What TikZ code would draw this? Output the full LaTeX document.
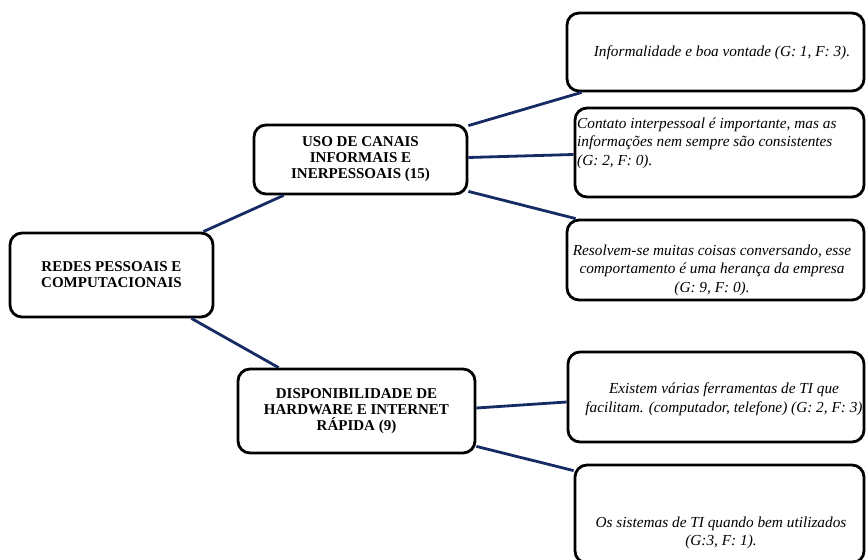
\documentclass[tikz,border=0pt]{standalone}
\usepackage{fontspec}
\setmainfont{Liberation Serif}
\definecolor{linkblue}{RGB}{22,42,100}
\begin{document}
\begin{tikzpicture}[x=1pt,y=-1pt,
  box/.style={draw=black,line width=2.8pt,rounded corners=12pt,fill=white,inner sep=0pt,align=center},
  bold/.style={font=\fontsize{15}{16}\selectfont\bfseries,align=center},
  ital/.style={font=\fontsize{15.3}{18.6}\selectfont\itshape,inner sep=0pt},
  link/.style={draw=linkblue,line width=2.8pt}]
\useasboundingbox (0,0) rectangle (866,559);
% left-side boxes
\node[box,bold,minimum width=203pt,minimum height=84pt] (root) at (111.5,275) {REDES PESSOAIS E\\COMPUTACIONAIS};
\node[box,bold,minimum width=213pt,minimum height=69pt] (uso) at (360.5,159.5) {USO DE CANAIS\\INFORMAIS E\\INERPESSOAIS (15)};
\node[box,bold,minimum width=237pt,minimum height=84pt] (disp) at (356.5,411) {DISPONIBILIDADE DE\\HARDWARE E INTERNET\\R\'APIDA (9)};
% right-side boxes
\node[box,minimum width=297pt,minimum height=78pt] (b1) at (715.5,52) {};
\node[box,minimum width=289pt,minimum height=89pt] (b2) at (719.5,152.5) {};
\node[box,minimum width=297pt,minimum height=80pt] (b3) at (715.5,260) {};
\node[box,minimum width=296pt,minimum height=90pt] (b4) at (716,397) {};
\node[box,minimum width=289pt,minimum height=98pt] (b5) at (719.5,514) {};
% texts of right-side boxes
\node[ital,align=center] (t1) at (722,53) {Informalidade e boa vontade (G: 1, F: 3).};
\node[ital,align=left,anchor=west] (t2) at (577,143) {Contato interpessoal é importante, mas as\\informações nem sempre são consistentes\\(G: 2, F: 0).};
\node[ital,align=center] (t3) at (712,270) {Resolvem-se muitas coisas conversando, esse\\comportamento é uma herança da empresa\\(G: 9, F: 0).};
\node[ital,align=center] (t4) at (724,399) {Existem várias ferramentas de TI que\\facilitam. (computador, telefone) (G: 2, F: 3)};
\node[ital,align=center] (t5) at (721,533) {Os sistemas de TI quando bem utilizados\\(G:3, F: 1).};
% connectors
\begin{scope}[on background layer/.try]
\end{scope}
\draw[link] ([xshift=-11pt]root.north east) -- ([xshift=31pt]uso.south west);
\draw[link] ([xshift=-23pt]root.south east) -- ([xshift=42pt]disp.north west);
\draw[link] ([yshift=-2pt]uso.north east) -- ([xshift=16pt]b1.south west);
\draw[link] ([yshift=2pt]uso.east) -- ([yshift=-2pt]b2.west);
\draw[link] ([yshift=4pt]uso.south east) -- ([xshift=10pt]b3.north west);
\draw[link] ([yshift=3pt]disp.east) -- ([yshift=-5pt]b4.west);
\draw[link] ([yshift=8pt]disp.south east) -- ([yshift=-7pt]b5.north west);
\end{tikzpicture}
\end{document}
